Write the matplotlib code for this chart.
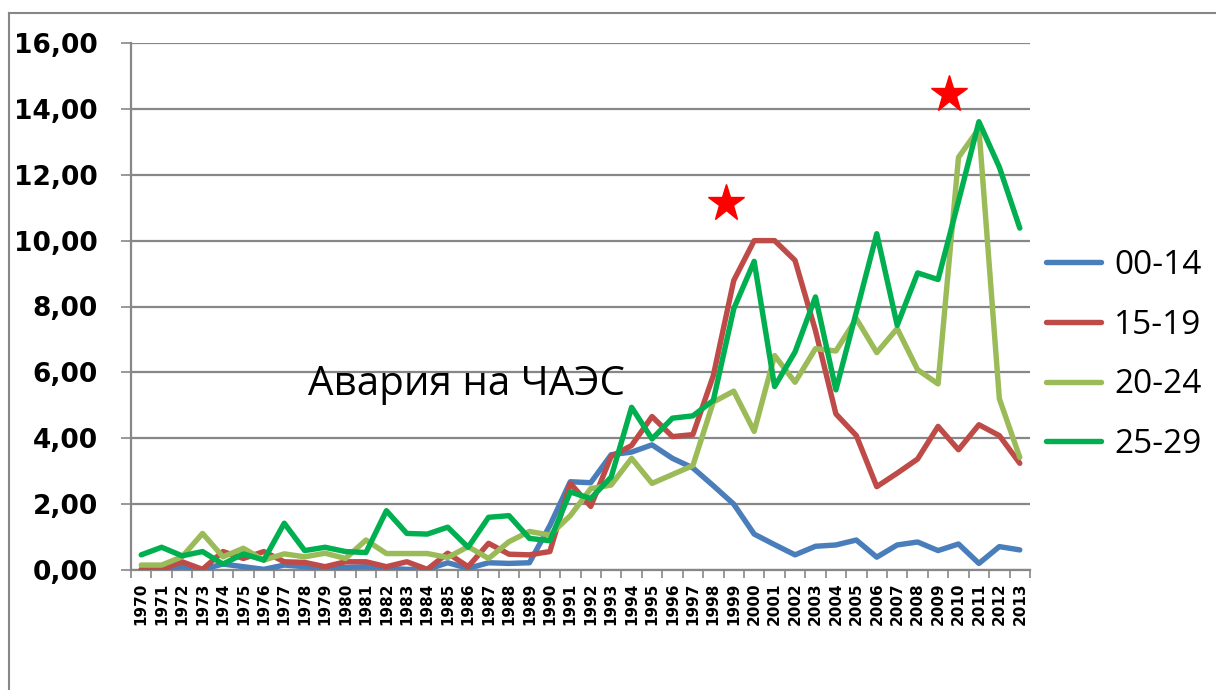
import matplotlib.pyplot as plt
from matplotlib.lines import Line2D

years = [str(y) for y in range(1970, 2014)]

age_00_14 = [0.0, 0.0, 0.1, 0.02, 0.18, 0.1, 0.02, 0.15, 0.1, 0.05,
             0.08, 0.1, 0.05, 0.02, 0.02, 0.22, 0.05, 0.22, 0.2, 0.22,
             1.35, 2.68, 2.65, 3.5, 3.58, 3.8, 3.39, 3.1, 2.56, 2.0,
             1.09, 0.77, 0.46, 0.72, 0.76, 0.91, 0.39, 0.76, 0.85, 0.59,
             0.79, 0.2, 0.71, 0.61]
age_15_19 = [0.02, 0.02, 0.25, 0.02, 0.56, 0.35, 0.56, 0.25, 0.23, 0.1,
             0.25, 0.25, 0.1, 0.25, 0.02, 0.51, 0.1, 0.81, 0.48, 0.46,
             0.56, 2.63, 1.93, 3.45, 3.78, 4.66, 4.05, 4.11, 5.9, 8.79,
             10.0, 10.0, 9.4, 7.27, 4.74, 4.08, 2.53, 2.94, 3.37, 4.36,
             3.65, 4.41, 4.08, 3.24]
age_20_24 = [0.15, 0.15, 0.4, 1.11, 0.4, 0.66, 0.3, 0.49, 0.4, 0.51,
             0.35, 0.91, 0.5, 0.5, 0.5, 0.38, 0.71, 0.35, 0.86, 1.17,
             1.06, 1.65, 2.47, 2.58, 3.39, 2.63, 2.9, 3.17, 5.1, 5.43,
             4.21, 6.51, 5.7, 6.72, 6.65, 7.63, 6.6, 7.33, 6.08, 5.65,
             12.53, 13.4, 5.2, 3.42]
age_25_29 = [0.46, 0.69, 0.43, 0.56, 0.18, 0.49, 0.3, 1.42, 0.59, 0.69,
             0.56, 0.53, 1.8, 1.11, 1.09, 1.3, 0.69, 1.6, 1.65, 0.96,
             0.89, 2.37, 2.17, 2.82, 4.94, 3.98, 4.61, 4.68, 5.15, 7.93,
             9.37, 5.57, 6.62, 8.29, 5.47, 7.83, 10.21, 7.43, 9.02, 8.82,
             11.2, 13.61, 12.23, 10.38]

labels = ['00-14', '15-19', '20-24', '25-29']
colors = ['#4a7ebb', '#be4b48', '#9bbb59', '#00b050']
series = [age_00_14, age_15_19, age_20_24, age_25_29]

# stars put on the chart by hand (x in category index, y in value)
stars = [(28.6, 11.15), (39.55, 14.45)]
note = 'Авария на ЧАЭС'
note_pos = (15.9, 5.3)

grid_color = '#878787'

fig = plt.figure(figsize=(12.16, 6.9), dpi=100)
ax = fig.add_axes([131/1216, 1 - 570/690, 899/1216, 527/690])

x = list(range(len(years)))
for vals, lab, col in zip(series, labels, colors):
  ax.plot(x, vals, color=col, lw=3.9, label=lab, solid_joinstyle='round',
          solid_capstyle='round', zorder=3)

for sx, sy in stars:
  ax.plot(sx, sy, marker='*', ms=28, color='red', mec='red', lw=0, zorder=4)

ax.text(note_pos[0], note_pos[1], note, ha='center', va='baseline',
        fontsize=29, family='Open Sans', zorder=5)

ax.set_xlim(-0.5, len(years) - 0.5)
ax.set_ylim(0, 16)
ax.set_yticks(range(0, 17, 2))
ax.set_yticklabels([('%.2f' % v).replace('.', ',') for v in range(0, 17, 2)],
                   fontsize=19, fontweight='bold')
ax.set_xticks(x)
ax.set_xticklabels(years, rotation=90, fontsize=11, fontweight='bold')
ax.set_xticks([i - 0.5 for i in range(len(years) + 1)], minor=True)
ax.tick_params(axis='x', which='major', length=0, pad=9)
ax.tick_params(axis='x', which='minor', length=6, width=1.2, color=grid_color)
ax.tick_params(axis='y', length=7, width=1.2, color=grid_color, pad=17)

ax.grid(axis='y', color=grid_color, lw=1.6, zorder=0)
ax.set_axisbelow(True)
for s in ['top', 'right']:
  ax.spines[s].set_visible(False)
for s in ['left', 'bottom']:
  ax.spines[s].set_color(grid_color)
  ax.spines[s].set_linewidth(1.6)

fig.legend(loc='center left', bbox_to_anchor=(1046/1216, 1 - 355/690),
           frameon=False, prop={'family': 'Open Sans', 'size': 24},
           handlelength=1.65, handletextpad=0.4, labelspacing=0.8,
           borderpad=0, borderaxespad=0)

# outer chart frame (only left and top edge are inside the picture)
fig.add_artist(Line2D([9/1216, 9/1216], [0, 1 - 13/690], color=grid_color, lw=1.5))
fig.add_artist(Line2D([9/1216, 1], [1 - 13/690, 1 - 13/690], color=grid_color, lw=1.5))

fig.savefig('out.png', dpi=100)
